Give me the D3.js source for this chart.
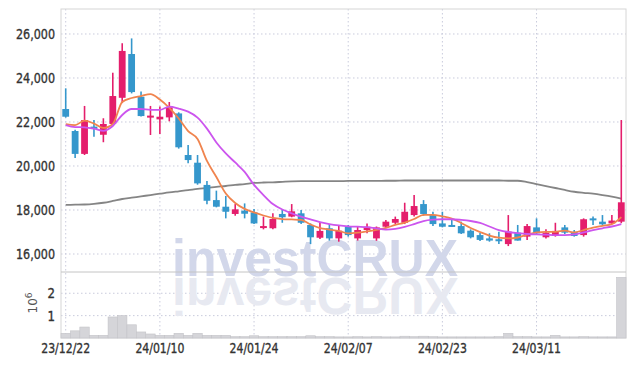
<!DOCTYPE html>
<html><head><meta charset="utf-8">
<script src="https://cdn.jsdelivr.net/npm/d3@7"></script>
<style>body{margin:0;background:#fff}svg{display:block}</style>
</head><body><svg id="c" width="634" height="366"></svg>
<script>
const dates = ["23/12/22","23/12/26","23/12/27","23/12/28","24/01/02","24/01/03","24/01/04","24/01/05","24/01/08","24/01/09",
"24/01/10","24/01/11","24/01/12","24/01/15","24/01/16","24/01/17","24/01/18","24/01/19","24/01/22","24/01/23",
"24/01/24","24/01/25","24/01/26","24/01/29","24/01/30","24/01/31","24/02/01","24/02/02","24/02/05","24/02/06",
"24/02/07","24/02/08","24/02/13","24/02/14","24/02/15","24/02/16","24/02/19","24/02/20","24/02/21","24/02/22",
"24/02/23","24/02/26","24/02/27","24/02/28","24/02/29","24/03/04","24/03/05","24/03/06","24/03/07","24/03/08",
"24/03/11","24/03/12","24/03/13","24/03/14","24/03/15","24/03/18","24/03/19","24/03/20","24/03/21","24/03/22"];
const open  = [22590,21590,20550,21790,21420,21910,23100,25090,23150,22200,22120,22210,22390,20500,20150,19140,18450,18150,17820,17970,
17890,17210,17170,17820,17700,17850,17320,16740,17170,16710,17240,16710,17090,16710,17240,17420,17420,17770,18270,17770,
17390,17320,17270,17060,16860,16710,16670,16450,16970,16790,17210,16760,16820,17210,17010,16860,17620,17470,17390,17470];
const high  = [23530,21650,22730,22090,22170,24240,25580,25800,23390,22730,22700,22910,22440,20950,20500,19320,18880,18640,18270,18300,
18050,17700,17850,18000,18270,18000,17390,17440,17360,17320,17320,17240,17390,17250,17550,17700,18330,18680,18450,17920,
17920,17620,17470,17120,16970,16940,17010,17770,17320,17360,17620,17120,17420,17320,17090,17620,17700,17770,17770,22090];
const low   = [22200,20360,20500,21330,21080,21880,22860,23300,22250,21410,21450,22030,20790,20120,19150,18260,18120,17620,17740,17620,
17360,17120,17120,17420,17670,17360,16450,16680,16610,16560,16790,16610,16940,16600,17170,17360,17360,17700,17740,17270,
17210,17240,16910,16710,16590,16560,16450,16360,16610,16640,16910,16710,16790,16910,16790,16790,17320,17320,17360,17400];
const close = [22240,20550,22090,21680,21910,23180,25230,23360,22270,22290,22240,22670,20850,20270,19210,18420,18150,17920,18030,17830,
17390,17270,17590,17670,17940,17420,16760,17050,16710,17060,16860,17090,17240,17210,17470,17590,17920,18180,17820,17360,
17240,17270,16940,16760,16640,16610,16610,17020,16610,17270,16940,16970,17050,16970,16820,17580,17550,17350,17520,18350];
const ma5   = [21900,21860,22060,21930,21730,21910,22910,23090,23180,23270,23020,22640,22160,21590,21230,20230,19500,18750,18320,18050,
17890,17750,17640,17590,17570,17550,17340,17180,17110,17050,16940,16970,17030,17100,17190,17320,17430,17590,17780,17780,
17710,17610,17410,17180,17000,16840,16740,16710,16750,16880,16980,17010,17010,17060,16980,17090,17200,17280,17360,17680];
const ma20  = [21860,21770,21760,21700,21600,21820,22320,22590,22590,22550,22550,22700,22610,22470,22200,21700,21070,20570,20160,19730,
19140,18680,18270,18020,17850,17700,17570,17450,17360,17300,17260,17240,17220,17160,17110,17140,17230,17360,17500,17560,
17580,17580,17550,17500,17410,17250,17090,17000,16950,16910,16890,16880,16860,16860,16890,16980,17090,17170,17250,17360];
const ma120 = [18230,18240,18250,18280,18330,18410,18500,18560,18620,18680,18740,18800,18850,18900,18960,19000,19050,19090,19140,19180,
19230,19250,19260,19280,19300,19310,19310,19310,19310,19310,19320,19320,19320,19320,19330,19330,19340,19340,19340,19340,
19340,19340,19340,19340,19340,19340,19340,19330,19330,19270,19180,19090,19000,18910,18830,18780,18740,18680,18610,18520];
const volume = [0.21,0.32,0.49,0.12,0.12,0.94,1.0,0.59,0.27,0.18,0.12,0.12,0.21,0.12,0.21,0.12,0.12,0.12,0.06,0.06,
0.1,0.06,0.06,0.06,0.06,0.06,0.1,0.06,0.06,0.05,0.05,0.06,0.05,0.06,0.05,0.05,0.08,0.06,0.08,0.06,
0.05,0.05,0.05,0.05,0.05,0.05,0.06,0.21,0.06,0.06,0.05,0.05,0.12,0.05,0.05,0.06,0.05,0.05,0.05,2.71];
const priceTicks = [16000,18000,20000,22000,24000,26000];
const volumeTicks = [1,2];
const dateTicks = ["23/12/22","24/01/10","24/01/24","24/02/07","24/02/23","24/03/11"];

const svg = d3.select("#c");
const L=61, R=626, T=9, MID=272, B=338;
const font = "'DejaVu Sans Condensed','DejaVu Sans',sans-serif";
const x = d3.scaleBand().domain(dates).range([L,R]);
const y = d3.scaleLinear().domain([15182,27136]).range([MID,T]);
const yv = d3.scaleLinear().domain([0,2.95]).range([B,MID]);
const cx = d => x(d)+x.bandwidth()/2;
const gridC = "#c9cbdc";

// grid
const g = svg.append("g");
g.selectAll(".hg").data(priceTicks).join("line")
 .attr("x1",L).attr("x2",R).attr("y1",d=>y(d)).attr("y2",d=>y(d))
 .attr("stroke",gridC).attr("stroke-dasharray","1.5,2.5");
g.selectAll(".vg").data(volumeTicks).join("line").attr("class","vg")
 .attr("x1",L).attr("x2",R).attr("y1",d=>yv(d)).attr("y2",d=>yv(d))
 .attr("stroke",gridC).attr("stroke-dasharray","1.5,2.5");
g.selectAll(".xg").data(dateTicks).join("line").attr("class","xg")
 .attr("x1",d=>cx(d)).attr("x2",d=>cx(d)).attr("y1",T).attr("y2",B)
 .attr("stroke",gridC).attr("stroke-dasharray","1.5,2.5");

// watermark
const wm = svg.append("g");
wm.append("text").text("investCRUX").attr("x",315).attr("y",276)
 .attr("text-anchor","middle").attr("font-family","'Liberation Sans','DejaVu Sans',sans-serif")
 .attr("font-weight","bold").attr("font-size",52).attr("textLength",286).attr("lengthAdjust","spacingAndGlyphs")
 .attr("fill","#d2d7ea");
wm.append("text").text("investCRUX").attr("x",315).attr("y",276)
 .attr("transform","translate(0,554) scale(1,-1)")
 .attr("text-anchor","middle").attr("font-family","'Liberation Sans','DejaVu Sans',sans-serif")
 .attr("font-weight","bold").attr("font-size",52).attr("textLength",286).attr("lengthAdjust","spacingAndGlyphs")
 .attr("fill","#e7e9f1");

// frame
svg.append("rect").attr("x",L).attr("y",T).attr("width",R-L).attr("height",B-T)
 .attr("fill","none").attr("stroke","#d6d6d6");
svg.append("line").attr("x1",L).attr("x2",R).attr("y1",MID).attr("y2",MID).attr("stroke","#c4c4c4");

// volume bars
svg.append("g").selectAll("rect").data(dates).join("rect")
 .attr("x",d=>x(d)).attr("width",x.bandwidth())
 .attr("y",(d,i)=>yv(volume[i])).attr("height",(d,i)=>B-yv(volume[i]))
 .attr("fill","#d5d5d9").attr("stroke","#c4c4c8").attr("stroke-width",0.6);

// MA lines
const line = arr => d3.line().x((d,i)=>cx(dates[i])).y(d=>y(d)).curve(d3.curveMonotoneX)(arr);
svg.append("path").attr("d",line(ma120)).attr("fill","none").attr("stroke","#858585").attr("stroke-width",1.8);

// candles
const up = "#e41e6c", dn = "#3597cc";
const cg = svg.append("g");
cg.selectAll("line").data(dates).join("line")
 .attr("x1",d=>cx(d)).attr("x2",d=>cx(d))
 .attr("y1",(d,i)=>y(high[i])).attr("y2",(d,i)=>y(low[i]))
 .attr("stroke",(d,i)=>close[i]>=open[i]?up:dn).attr("stroke-width",1.6);
const bw = 6.8;
cg.selectAll("rect").data(dates).join("rect")
 .attr("x",d=>cx(d)-bw/2).attr("width",bw)
 .attr("y",(d,i)=>y(Math.max(open[i],close[i])))
 .attr("height",(d,i)=>Math.max(2,Math.abs(y(open[i])-y(close[i]))))
 .attr("fill",(d,i)=>close[i]>=open[i]?up:dn);

svg.append("path").attr("d",line(ma5)).attr("fill","none").attr("stroke","#f0844e").attr("stroke-width",1.8);
svg.append("path").attr("d",line(ma20)).attr("fill","none").attr("stroke","#cc55ee").attr("stroke-width",1.8);

// axis labels
const lbl = sel => sel.attr("font-family",font).attr("font-size",14.5).attr("fill","#333")
  .attr("stroke","#333").attr("stroke-width",0.35).attr("lengthAdjust","spacingAndGlyphs");
svg.append("g").selectAll("text").data(priceTicks).join("text")
 .attr("x",55).attr("y",d=>y(d)).attr("dy","0.36em").attr("text-anchor","end")
 .call(lbl).attr("textLength",39).text(d3.format(","));
svg.append("g").selectAll("text").data(volumeTicks).join("text")
 .attr("x",55).attr("y",d=>yv(d)).attr("dy","0.36em").attr("text-anchor","end")
 .call(lbl).attr("textLength",7.5).text(d=>d);
svg.append("g").selectAll("text").data(dateTicks).join("text")
 .attr("x",d=>cx(d)).attr("y",353).attr("text-anchor","middle")
 .call(lbl).attr("textLength",49).text(d=>d);
const vl = svg.append("text").attr("transform","translate(37,303) rotate(-90)")
 .attr("text-anchor","middle").attr("font-family","'DejaVu Sans',sans-serif").attr("font-size",12).attr("fill","#555");
vl.append("tspan").text("10");
vl.append("tspan").attr("dy",-5).attr("font-size",9).text("6");
</script></body></html>
